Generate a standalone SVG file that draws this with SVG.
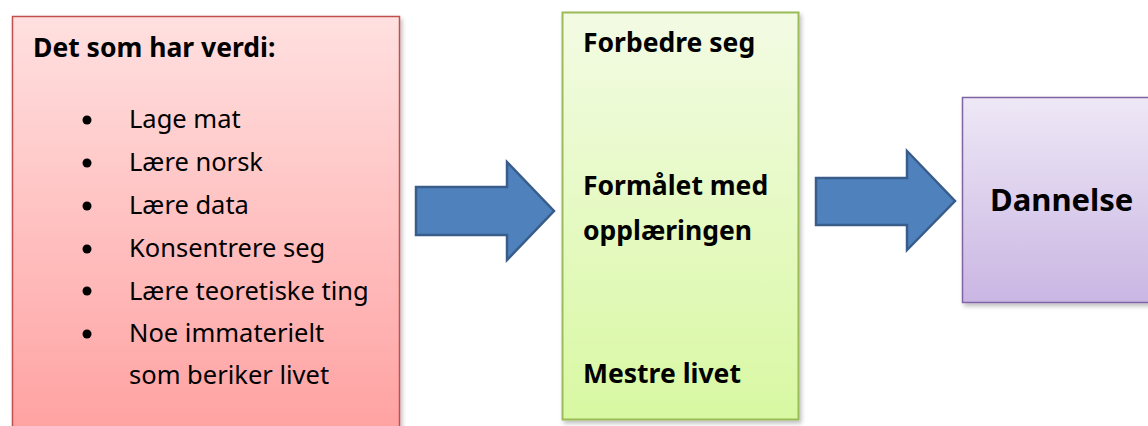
<svg xmlns="http://www.w3.org/2000/svg" width="1148" height="426" viewBox="0 0 1148 426">
<defs>
<linearGradient id="gRed" x1="0" y1="0" x2="0" y2="1"><stop offset="0" stop-color="#ffe0e0"/><stop offset="1" stop-color="#ffa1a1"/></linearGradient>
<linearGradient id="gGreen" x1="0" y1="0" x2="0" y2="1"><stop offset="0" stop-color="#f3fbe4"/><stop offset="1" stop-color="#d8f8a2"/></linearGradient>
<linearGradient id="gPurple" x1="0" y1="0" x2="0" y2="1"><stop offset="0" stop-color="#eee8f6"/><stop offset="1" stop-color="#cab6e3"/></linearGradient>
<filter id="sh" x="-5%" y="-5%" width="115%" height="115%"><feDropShadow dx="2" dy="3" stdDeviation="2" flood-color="#000" flood-opacity="0.25"/></filter>
</defs>
<style>
.t{font-family:"Noto Sans","Open Sans",sans-serif;fill:#000;}
.b{font-weight:bold;}
.item{font-size:25.5px;}
.arrow{fill:#4f81bd;stroke:#385d8a;stroke-width:2.5;stroke-linejoin:miter;}
</style>
<rect width="1148" height="426" fill="#fff"/>
<g id="node-verdi">
<rect x="12.5" y="16.5" width="387" height="420" fill="url(#gRed)" stroke="#c0504d" stroke-width="1.5" filter="url(#sh)"/>
<text class="t b" x="33" y="57" font-size="26.5">Det som har verdi:</text>
<g class="t item">
<circle cx="87" cy="120" r="4.5"/><text x="129" y="128">Lage mat</text>
<circle cx="87" cy="163" r="4.5"/><text x="129" y="171">Lære norsk</text>
<circle cx="87" cy="206" r="4.5"/><text x="129" y="214">Lære data</text>
<circle cx="87" cy="249" r="4.5"/><text x="129" y="257">Konsentrere seg</text>
<circle cx="87" cy="291" r="4.5"/><text x="129" y="300">Lære teoretiske ting</text>
<circle cx="87" cy="334" r="4.5"/><text x="129" y="342">Noe immaterielt</text>
<text x="129" y="384">som beriker livet</text>
</g>
</g>
<g id="node-formal">
<rect x="562.5" y="12.5" width="236" height="407" fill="url(#gGreen)" stroke="#9bbb59" stroke-width="2" filter="url(#sh)"/>
<g class="t b" font-size="26.5">
<text x="583" y="52">Forbedre seg</text>
<text x="583" y="195">Formålet med</text>
<text x="583" y="240">opplæringen</text>
<text x="583" y="383">Mestre livet</text>
</g>
</g>
<g id="node-dannelse">
<rect x="962.5" y="97.5" width="200" height="205" fill="url(#gPurple)" stroke="#8064a2" stroke-width="1.5" filter="url(#sh)"/>
<text class="t b" x="990" y="211" font-size="31">Dannelse</text>
</g>
<g id="connectors">
<path class="arrow" d="M416,187 H507 V162 L554,211 L507,260 V235 H416 Z"/>
<path class="arrow" d="M816,178 H907 V151 L955,201 L907,250 V225 H816 Z"/>
</g>
</svg>
